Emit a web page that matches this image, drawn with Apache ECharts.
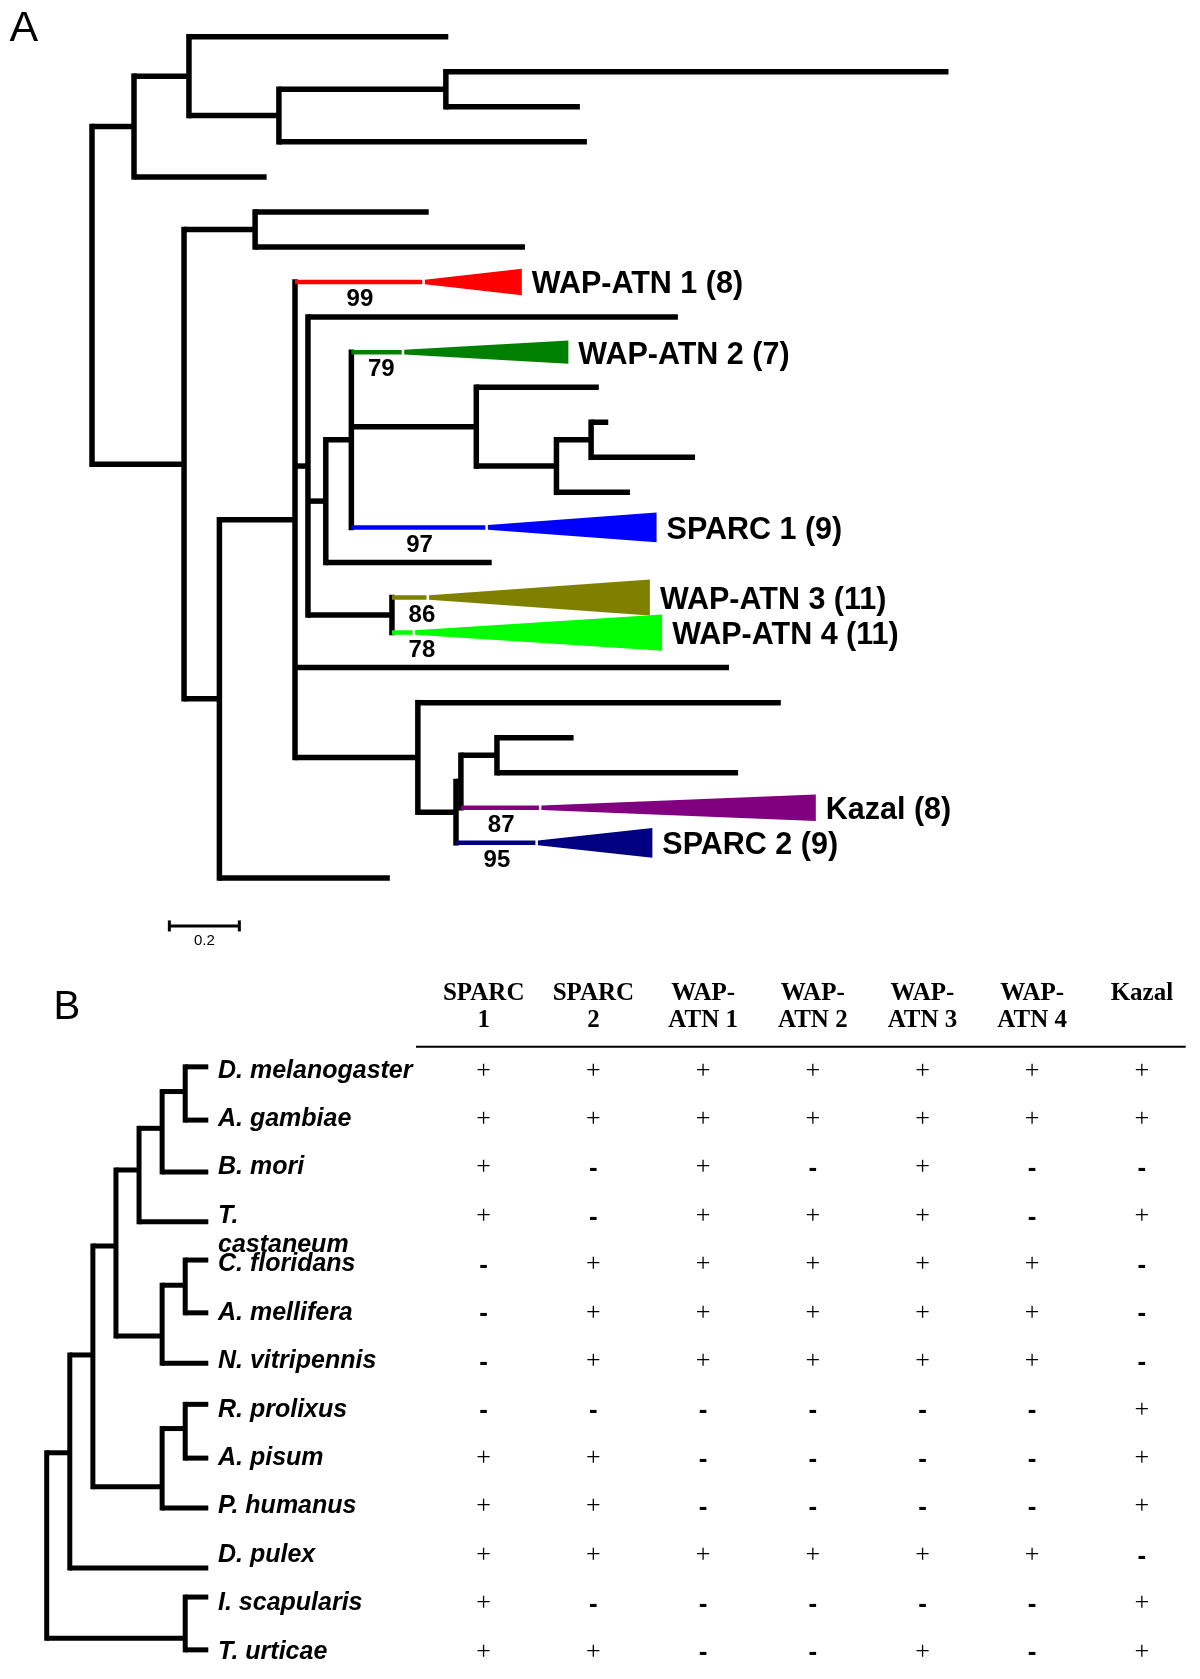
<!DOCTYPE html>
<html><head><meta charset="utf-8">
<script src="https://cdn.jsdelivr.net/npm/echarts@6/dist/echarts.min.js"></script>
<style>html,body{margin:0;padding:0;background:#fff}#c{width:1200px;height:1679px}</style>
</head><body><div id="c"></div>
<script>
// ---------------- Panel A: gene tree (branch lengths, substitutions/site) ----------------
const treeA = [ // [node, parent, branch length]
  ['root', null, 0],
  ['a1', 'root', 0.120],
  ['a2', 'a1', 0.157],
  ['leaf1', 'a2', 0.741],
  ['a3', 'a2', 0.257],
  ['a4', 'a3', 0.477],
  ['leaf2', 'a4', 1.436],
  ['leaf3', 'a4', 0.383],
  ['leaf4', 'a3', 0.880],
  ['leaf5', 'a1', 0.379],
  ['b1', 'root', 0.263],
  ['b2', 'b1', 0.203],
  ['leaf6', 'b2', 0.496],
  ['leaf7', 'b2', 0.771],
  ['b3', 'b1', 0.101],
  ['n1', 'b3', 0.216],
  ['WAP-ATN 1', 'n1', 0.371],
  ['n2', 'n1', 0.037],
  ['leaf9', 'n2', 1.057],
  ['n3', 'n2', 0.051],
  ['n4', 'n3', 0.073],
  ['WAP-ATN 2', 'n4', 0.151],
  ['n5', 'n4', 0.357],
  ['leaf11', 'n5', 0.350],
  ['n6', 'n5', 0.229],
  ['n7', 'n6', 0.099],
  ['leaf12', 'n7', 0.049],
  ['leaf13', 'n7', 0.297],
  ['leaf14', 'n6', 0.210],
  ['SPARC 1', 'n4', 0.390],
  ['leaf16', 'n3', 0.474],
  ['n34', 'n2', 0.240],
  ['WAP-ATN 3', 'n34', 0.106],
  ['WAP-ATN 4', 'n34', 0.066],
  ['leaf19', 'n1', 1.240],
  ['n8', 'n1', 0.351],
  ['leaf20', 'n8', 1.037],
  ['n9', 'n8', 0.109],
  ['n10', 'n9', 0.014],
  ['n11', 'n10', 0.103],
  ['leaf21', 'n11', 0.219],
  ['leaf22', 'n11', 0.689],
  ['Kazal', 'n10', 0.230],
  ['SPARC 2', 'n9', 0.234],
  ['leaf25', 'b3', 0.487]
];
const cladeNames     = ['WAP-ATN 1', 'WAP-ATN 2', 'SPARC 1', 'WAP-ATN 3', 'WAP-ATN 4', 'Kazal', 'SPARC 2'];
const cladeSizes     = [8, 7, 9, 11, 11, 8, 9];
const cladeDepths    = [0.277, 0.469, 0.482, 0.631, 0.706, 0.784, 0.327];
const cladeBootstrap = [99, 79, 97, 86, 78, 87, 95];
const cladeColors    = ['#ff0000', '#008000', '#0000ff', '#808000', '#00ff00', '#800080', '#000080'];
const scaleBarLength = 0.2;
const scaleBarLabel  = '0.2';
const scaleBarAt     = [0.221, 25.37]; // [start, row]

// ---------------- Panel B: species tree + presence table ----------------
const genes   = ['SPARC 1', 'SPARC 2', 'WAP-ATN 1', 'WAP-ATN 2', 'WAP-ATN 3', 'WAP-ATN 4', 'Kazal'];
const species = ['D. melanogaster', 'A. gambiae', 'B. mori', 'T.\ncastaneum', 'C. floridans', 'A. mellifera',
                 'N. vitripennis', 'R. prolixus', 'A. pisum', 'P. humanus', 'D. pulex', 'I. scapularis', 'T. urticae'];
const presence = ['+++++++', '+++++++', '+-+-+--', '+-+++-+', '-+++++-', '-+++++-', '-+++++-',
                  '------+', '++----+', '++----+', '++++++-', '+-----+', '++--+-+'];
const speciesNodes = [ // [node, parent, level, row]
  ['root', null, 0, 9.8],
  ['pan', 'root', 1, 7.89],
  ['ins', 'pan', 2, 5.87],
  ['holo', 'ins', 3, 3.62],
  ['dlc', 'holo', 4, 2.05],
  ['dab', 'dlc', 5, 1.19],
  ['da', 'dab', 6, 0.43],
  ['hym', 'holo', 5, 5.48],
  ['ca', 'hym', 6, 4.43],
  ['para', 'ins', 5, 8.59],
  ['ra', 'para', 6, 7.39],
  ['chel', 'root', 6, 11.72]
];
const speciesParent  = ['da', 'da', 'dab', 'dlc', 'ca', 'ca', 'hym', 'ra', 'ra', 'para', 'pan', 'chel', 'chel'];
const speciesLeafRow = [-0.08, 1.02, 2.09, 3.12, 3.91, 5.0, 6.04, 6.89, 8.0, 9.03, 10.27, 10.87, 11.96];
const speciesLeafLevel = 7;

// ---------------- layout of tree A ----------------
const nodeA = {};
treeA.forEach(([id, p, len]) => { nodeA[id] = { id, p, len, kids: [] }; });
treeA.forEach(([id, p]) => { if (p) nodeA[p].kids.push(id); });
let leafCounter = 0;
function layoutA(id, px) {
  const n = nodeA[id];
  n.x = px + n.len;
  if (n.kids.length) {
    n.kids.forEach(k => layoutA(k, n.x));
    n.y = (nodeA[n.kids[0]].y + nodeA[n.kids[n.kids.length - 1]].y) / 2;
  } else { n.y = leafCounter++; }
}
layoutA('root', 0);
const vertA = [], horA = [], triA = [], labA = [], bootA = [];
const UNIT_PX = 350; // px per substitution unit (grid width / axis range)
Object.values(nodeA).forEach(n => {
  if (n.kids.length) vertA.push([n.x, nodeA[n.kids[0]].y, nodeA[n.kids[n.kids.length - 1]].y]);
  if (n.p) {
    const ci = cladeNames.indexOf(n.id);
    const px = nodeA[n.p].x;
    horA.push([px, n.x, n.y, ci]);
    if (ci >= 0) {
      triA.push([n.x, n.x + cladeDepths[ci], n.y, cladeSizes[ci] * 0.094, ci]);
      labA.push([n.x + cladeDepths[ci], n.y, ci]);
      bootA.push([Math.max((px + n.x) / 2, px + 30 / UNIT_PX), n.y, cladeBootstrap[ci]]);
    }
  }
});

// ---------------- layout of tree B ----------------
const nodeB = {};
speciesNodes.forEach(([id, p, lv, row]) => { nodeB[id] = { id, p, x: lv, y: row, kids: [] }; });
speciesNodes.forEach(([id, p]) => { if (p) nodeB[p].kids.push(nodeB[id]); });
speciesParent.forEach((p, i) => { nodeB[p].kids.push({ x: speciesLeafLevel, y: speciesLeafRow[i] }); });
const vertB = [], horB = [];
Object.values(nodeB).forEach(n => {
  const ys = n.kids.map(k => k.y);
  vertB.push([n.x, Math.min(...ys), Math.max(...ys)]);
  n.kids.forEach(k => horB.push([n.x, k.x, k.y, -1]));
});

// ---------------- table cells ----------------
const cells = [];
presence.forEach((row, si) => row.split('').forEach((c, gi) => cells.push([gi, si, c === '+' ? 1 : 0])));

// ---------------- render helpers ----------------
function vRender(lw) {
  return function (params, api) {
    const a = api.coord([api.value(0), api.value(1)]);
    const b = api.coord([api.value(0), api.value(2)]);
    return { type: 'line', shape: { x1: a[0], y1: a[1] - lw / 2, x2: b[0], y2: b[1] + lw / 2 },
             style: { stroke: '#000', lineWidth: lw } };
  };
}
function hRender(lw) {
  return function (params, api) {
    const ci = api.value(3);
    const a = api.coord([api.value(0), api.value(2)]);
    const b = api.coord([api.value(1), api.value(2)]);
    const col = ci >= 0;
    return { type: 'line', shape: { x1: a[0], y1: a[1], x2: b[0] - (col ? 2.5 : 0), y2: b[1] },
             style: { stroke: col ? cladeColors[ci] : '#000', lineWidth: col ? 4.5 : lw } };
  };
}
function triRender(params, api) {
  const y = api.value(2), h = api.value(3), ci = api.value(4);
  const tip = api.coord([api.value(0), y]);
  const top = api.coord([api.value(1), y - h / 2]);
  const bot = api.coord([api.value(1), y + h / 2]);
  return { type: 'polygon', shape: { points: [[tip[0], tip[1] - 2.3], top, bot, [tip[0], tip[1] + 2.3]] },
           style: { fill: cladeColors[ci] } };
}
function labRender(params, api) {
  const ci = api.value(2);
  const p = api.coord([api.value(0), api.value(1)]);
  return { type: 'text', x: p[0] + 10, y: p[1] + 3,
           style: { text: cladeNames[ci] + ' (' + cladeSizes[ci] + ')', fill: '#000',
                    font: 'bold 30.5px "Liberation Sans", Arial, sans-serif', align: 'left', verticalAlign: 'middle' } };
}
function bootRender(params, api) {
  const p = api.coord([api.value(0), api.value(1)]);
  return { type: 'text', x: p[0], y: p[1] + 17.5,
           style: { text: String(api.value(2)), fill: '#000',
                    font: 'bold 24px "Liberation Sans", Arial, sans-serif', align: 'center', verticalAlign: 'middle' } };
}
function scaleRender(params, api) {
  const a = api.coord([api.value(0), api.value(2)]);
  const b = api.coord([api.value(1), api.value(2)]);
  return { type: 'group', children: [
    { type: 'line', shape: { x1: a[0], y1: a[1], x2: b[0], y2: b[1] }, style: { stroke: '#000', lineWidth: 3 } },
    { type: 'line', shape: { x1: a[0], y1: a[1] - 5.5, x2: a[0], y2: a[1] + 5.5 }, style: { stroke: '#000', lineWidth: 3 } },
    { type: 'line', shape: { x1: b[0], y1: b[1] - 5.5, x2: b[0], y2: b[1] + 5.5 }, style: { stroke: '#000', lineWidth: 3 } },
    { type: 'text', x: (a[0] + b[0]) / 2, y: a[1] + 15,
      style: { text: scaleBarLabel, fill: '#000', font: '15px "Liberation Sans", Arial, sans-serif', align: 'center', verticalAlign: 'middle' } }
  ] };
}
function cellRender(params, api) {
  const p = api.coord([api.value(0), api.value(1)]);
  const plus = api.value(2) === 1;
  return { type: 'text', x: p[0], y: p[1] + (plus ? 0 : 1.5),
           style: { text: plus ? '+' : '-', fill: '#000',
                    font: plus ? '26px "Liberation Serif", "Times New Roman", serif' : 'bold 26px "Liberation Sans", Arial, sans-serif',
                    align: 'center', verticalAlign: 'middle' } };
}

const TABLE_LEFT = 428.85;
const option = {
  animation: false,
  backgroundColor: '#fff',
  graphic: [
    { type: 'text', x: 9.6, y: 29.5, style: { text: 'A', fill: '#000', font: '43px "Liberation Sans", Arial, sans-serif', verticalAlign: 'middle' } },
    { type: 'text', x: 53.5, y: 1007.5, style: { text: 'B', fill: '#000', font: '40px "Liberation Sans", Arial, sans-serif', verticalAlign: 'middle' } },
    { type: 'line', shape: { x1: 416, y1: 1046.7, x2: 1185.7, y2: 1046.7 }, style: { stroke: '#000', lineWidth: 2 } }
  ],
  grid: [
    { left: 92, top: 36.7, width: 875, height: 911.3 },
    { left: 46.7, top: 1046.5, width: 161.6, height: 629.5 },
    { left: TABLE_LEFT, top: 1046.5, width: 767.9, height: 629.5 }
  ],
  xAxis: [
    { gridIndex: 0, type: 'value', min: 0, max: 2.5, show: false },
    { gridIndex: 1, type: 'value', min: 0, max: 7, show: false },
    { gridIndex: 2, type: 'category', data: genes, position: 'top',
      axisLine: { show: false }, axisTick: { show: false }, splitLine: { show: false },
      axisLabel: { interval: 0, color: '#000', fontFamily: '"Liberation Serif", "Times New Roman", serif',
                   fontWeight: 'bold', fontSize: 25, lineHeight: 27, margin: 12,
                   formatter: v => v === 'Kazal' ? 'Kazal\n ' : v.replace('SPARC ', 'SPARC\n').replace('WAP-', 'WAP-\n') } }
  ],
  yAxis: [
    { gridIndex: 0, type: 'value', min: 0, max: 26, inverse: true, show: false },
    { gridIndex: 1, type: 'value', min: -0.5, max: 12.5, inverse: true, show: false },
    { gridIndex: 2, type: 'category', data: species, inverse: true,
      axisLine: { show: false }, axisTick: { show: false }, splitLine: { show: false },
      axisLabel: { interval: 0, align: 'left', margin: TABLE_LEFT - 218, color: '#000',
                   fontFamily: '"Liberation Sans", Arial, sans-serif', fontStyle: 'italic', fontWeight: 'bold',
                   fontSize: 25, lineHeight: 29,
                   formatter: v => v.indexOf('\n') >= 0 ? ' \n' + v : v } }
  ],
  series: [
    { type: 'custom', xAxisIndex: 0, yAxisIndex: 0, clip: false, renderItem: vRender(5.5), data: vertA, silent: true },
    { type: 'custom', xAxisIndex: 0, yAxisIndex: 0, clip: false, renderItem: hRender(5.5), data: horA, silent: true },
    { type: 'custom', xAxisIndex: 0, yAxisIndex: 0, clip: false, renderItem: triRender, data: triA, silent: true },
    { type: 'custom', xAxisIndex: 0, yAxisIndex: 0, clip: false, renderItem: labRender, data: labA, silent: true },
    { type: 'custom', xAxisIndex: 0, yAxisIndex: 0, clip: false, renderItem: bootRender, data: bootA, silent: true },
    { type: 'custom', xAxisIndex: 0, yAxisIndex: 0, clip: false, renderItem: scaleRender,
      data: [[scaleBarAt[0], scaleBarAt[0] + scaleBarLength, scaleBarAt[1]]], silent: true },
    { type: 'custom', xAxisIndex: 1, yAxisIndex: 1, clip: false, renderItem: vRender(5), data: vertB, silent: true },
    { type: 'custom', xAxisIndex: 1, yAxisIndex: 1, clip: false, renderItem: hRender(5), data: horB, silent: true },
    { type: 'custom', xAxisIndex: 2, yAxisIndex: 2, clip: false, renderItem: cellRender, data: cells, silent: true }
  ]
};
const chart = echarts.init(document.getElementById('c'));
chart.setOption(option);
</script>
</body></html>
